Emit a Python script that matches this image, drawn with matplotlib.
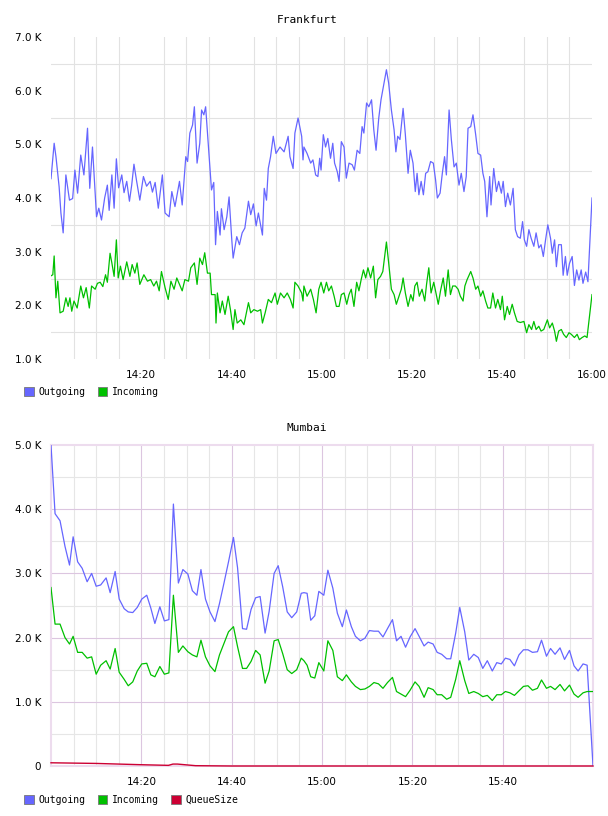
import matplotlib
matplotlib.use("Agg")
import matplotlib.pyplot as plt
from matplotlib.patches import Patch
from matplotlib.ticker import FixedLocator

# (minutes after 14:00, value in K)
fr_out = [(0.0, 4.36), (0.7, 5.02), (1.1, 4.77), (1.8, 4.21), (2.2, 3.72), (2.7, 3.35), (3.3, 4.43),
          (4.1, 3.96), (4.8, 3.99), (5.3, 4.52), (5.9, 4.09), (6.6, 4.80), (7.3, 4.43), (8.1, 5.30),
          (8.6, 4.18), (9.2, 4.95), (10.1, 3.65), (10.6, 3.81), (11.2, 3.59), (11.9, 4.00), (12.5, 4.24),
          (12.9, 3.77), (13.5, 4.43), (14.0, 3.81), (14.5, 4.73), (15.0, 4.19), (15.7, 4.43), (16.2, 4.10),
          (16.8, 4.31), (17.4, 3.94), (17.9, 4.24), (18.4, 4.63), (19.0, 4.31), (19.7, 3.96), (20.5, 4.40),
          (21.2, 4.22), (22.0, 4.31), (22.5, 4.11), (23.1, 4.29), (23.8, 3.81), (24.7, 4.43), (25.3, 3.72),
          (26.2, 3.65), (26.8, 4.12), (27.5, 3.84), (28.5, 4.31), (29.1, 3.87), (29.9, 4.77), (30.3, 4.68),
          (30.8, 5.21), (31.4, 5.36), (31.8, 5.70), (32.4, 4.65), (33.0, 5.02), (33.4, 5.64), (33.9, 5.55),
          (34.3, 5.70), (34.9, 4.99), (35.6, 4.15), (36.1, 4.29), (36.5, 3.13), (36.9, 3.75), (37.5, 3.31),
          (37.8, 3.80), (38.4, 3.41), (39.0, 3.65), (39.5, 4.02), (40.1, 3.22), (40.4, 2.88), (41.2, 3.28),
          (41.8, 3.13), (42.4, 3.35), (43.0, 3.44), (43.8, 3.94), (44.3, 3.69), (44.9, 3.89), (45.5, 3.48),
          (46.0, 3.72), (46.9, 3.31), (47.3, 4.18), (47.8, 3.96), (48.2, 4.55), (48.7, 4.77), (49.3, 5.15),
          (49.9, 4.83), (50.8, 4.95), (51.7, 4.86), (52.6, 5.15), (53.0, 4.77), (53.7, 4.55), (54.1, 5.21),
          (54.8, 5.49), (55.6, 5.15), (55.9, 4.71), (56.1, 4.95), (56.8, 4.83), (57.6, 4.65), (58.1, 4.71),
          (58.7, 4.43), (59.2, 4.40), (59.6, 4.74), (59.9, 4.52), (60.4, 5.18), (60.9, 4.95), (61.4, 5.11),
          (62.0, 4.74), (62.5, 5.02), (62.9, 4.65), (63.5, 4.49), (63.9, 4.31), (64.4, 5.05), (65.0, 4.95),
          (65.5, 4.37), (66.1, 4.65), (66.8, 4.62), (67.3, 4.52), (67.9, 4.89), (68.5, 4.83), (69.0, 5.33),
          (69.4, 5.21), (70.0, 5.77), (70.5, 5.70), (71.1, 5.83), (71.6, 5.27), (72.1, 4.89), (72.7, 5.49),
          (73.2, 5.83), (73.8, 6.11), (74.4, 6.39), (74.9, 6.14), (75.5, 5.64), (76.1, 5.27), (76.5, 4.86),
          (76.9, 5.15), (77.4, 5.09), (78.1, 5.67), (78.6, 5.18), (79.2, 4.46), (79.7, 4.89), (80.3, 4.65),
          (80.8, 4.12), (81.2, 4.46), (81.6, 4.06), (82.1, 4.31), (82.6, 4.06), (83.1, 4.46), (83.6, 4.49),
          (84.2, 4.68), (84.8, 4.65), (85.3, 4.34), (85.7, 4.00), (86.3, 4.09), (86.8, 4.46), (87.3, 4.77),
          (87.7, 4.43), (88.3, 5.64), (88.8, 5.09), (89.4, 4.58), (89.9, 4.65), (90.5, 4.24), (91.0, 4.46),
          (91.6, 4.12), (92.1, 4.40), (92.5, 5.30), (93.1, 5.33), (93.6, 5.55), (94.2, 5.18), (94.7, 4.83),
          (95.3, 4.80), (95.8, 4.46), (96.2, 4.31), (96.7, 3.65), (97.3, 4.40), (97.6, 3.87), (98.2, 4.55),
          (98.8, 4.12), (99.3, 4.31), (99.9, 4.09), (100.3, 4.31), (100.8, 3.84), (101.3, 4.09), (101.9, 3.87),
          (102.5, 4.18), (103.0, 3.41), (103.5, 3.28), (104.1, 3.25), (104.6, 3.56), (105.0, 3.22), (105.5, 3.10),
          (106.0, 3.41), (106.5, 3.25), (107.1, 3.10), (107.6, 3.35), (108.2, 3.07), (108.7, 3.13), (109.2, 2.91),
          (109.7, 3.22), (110.2, 3.50), (110.8, 3.25), (111.2, 2.97), (111.7, 3.22), (112.1, 2.72), (112.6, 3.13),
          (113.2, 3.13), (113.6, 2.56), (114.1, 2.91), (114.5, 2.56), (115.0, 2.78), (115.6, 2.91), (116.1, 2.37),
          (116.6, 2.66), (117.1, 2.47), (117.6, 2.66), (118.0, 2.41), (118.6, 2.62), (119.1, 2.44), (120.0, 4.00)]

fr_in = [(0.0, 2.55), (0.4, 2.57), (0.7, 2.92), (1.1, 2.14), (1.5, 2.45), (2.0, 1.86), (2.7, 1.89),
         (3.3, 2.14), (3.8, 1.98), (4.2, 2.14), (4.6, 1.89), (5.1, 2.08), (5.8, 1.95), (6.6, 2.36),
         (7.2, 2.14), (7.8, 2.33), (8.5, 1.95), (9.0, 2.36), (9.8, 2.30), (10.3, 2.41), (10.9, 2.43),
         (11.5, 2.35), (12.1, 2.57), (12.5, 2.43), (13.1, 2.97), (13.5, 2.79), (14.0, 2.54), (14.5, 3.22),
         (14.9, 2.51), (15.4, 2.73), (16.0, 2.48), (16.8, 2.81), (17.5, 2.54), (18.0, 2.76), (18.6, 2.60),
         (19.1, 2.79), (19.7, 2.39), (20.6, 2.57), (21.4, 2.45), (22.1, 2.48), (22.8, 2.36), (23.4, 2.45),
         (24.0, 2.27), (24.5, 2.63), (25.3, 2.33), (26.0, 2.11), (26.6, 2.45), (27.3, 2.30), (27.9, 2.51),
         (28.5, 2.39), (29.1, 2.27), (29.7, 2.48), (30.5, 2.45), (31.0, 2.70), (31.8, 2.79), (32.4, 2.39),
         (33.0, 2.88), (33.6, 2.76), (34.1, 2.98), (34.7, 2.60), (35.3, 2.60), (35.6, 2.20), (36.4, 2.20),
         (36.6, 1.67), (36.9, 2.23), (37.5, 1.86), (38.0, 2.08), (38.6, 1.83), (39.3, 2.17), (39.8, 1.92),
         (40.4, 1.55), (40.8, 1.92), (41.3, 1.67), (42.1, 1.73), (42.8, 1.64), (43.8, 2.05), (44.3, 1.86),
         (45.0, 1.92), (45.8, 1.89), (46.5, 1.92), (46.9, 1.67), (47.5, 1.86), (48.2, 2.11), (48.9, 2.05),
         (49.7, 2.23), (50.2, 2.02), (50.9, 2.23), (51.7, 2.14), (52.4, 2.23), (53.1, 2.11), (53.7, 1.95),
         (54.1, 2.43), (54.8, 2.36), (55.6, 2.23), (55.9, 2.08), (56.1, 2.36), (56.8, 2.17), (57.6, 2.30),
         (58.2, 2.11), (58.8, 1.86), (59.4, 2.30), (59.9, 2.43), (60.5, 2.23), (61.1, 2.43), (61.6, 2.27),
         (62.2, 2.36), (62.8, 2.17), (63.3, 1.98), (63.9, 1.98), (64.4, 2.20), (65.0, 2.23), (65.6, 2.02),
         (66.1, 2.20), (66.6, 2.30), (67.2, 1.98), (67.8, 2.43), (68.3, 2.27), (68.8, 2.48), (69.3, 2.66),
         (69.8, 2.51), (70.3, 2.70), (70.9, 2.51), (71.5, 2.73), (72.0, 2.14), (72.5, 2.48), (73.1, 2.54),
         (73.6, 2.63), (74.4, 3.18), (74.9, 2.79), (75.5, 2.30), (76.1, 2.20), (76.6, 2.02), (77.2, 2.17),
         (77.7, 2.30), (78.1, 2.51), (78.6, 2.23), (79.2, 1.98), (79.8, 2.20), (80.3, 2.08), (80.7, 2.36),
         (81.2, 2.43), (81.7, 2.17), (82.3, 2.30), (82.9, 2.08), (83.3, 2.39), (83.8, 2.70), (84.3, 2.23),
         (84.9, 2.43), (85.4, 2.23), (85.9, 2.02), (86.4, 2.27), (87.0, 2.51), (87.5, 2.17), (88.1, 2.66),
         (88.6, 2.20), (89.1, 2.36), (89.7, 2.36), (90.3, 2.30), (90.8, 2.17), (91.4, 2.08), (91.8, 2.36),
         (92.3, 2.48), (93.1, 2.63), (93.6, 2.51), (94.2, 2.30), (94.7, 2.36), (95.3, 2.17), (95.8, 2.27),
         (96.4, 2.08), (96.9, 1.95), (97.5, 1.95), (98.0, 2.23), (98.6, 1.95), (99.1, 2.11), (99.7, 1.92),
         (100.1, 2.17), (100.6, 1.73), (101.2, 1.98), (101.7, 1.83), (102.3, 2.02), (102.8, 1.86), (103.4, 1.70),
         (104.1, 1.68), (104.9, 1.70), (105.5, 1.49), (106.0, 1.64), (106.6, 1.55), (107.1, 1.70), (107.6, 1.55),
         (108.2, 1.61), (108.7, 1.52), (109.3, 1.55), (110.1, 1.73), (110.6, 1.58), (111.2, 1.67), (111.7, 1.52),
         (112.1, 1.33), (112.6, 1.52), (113.2, 1.55), (113.7, 1.46), (114.3, 1.40), (114.9, 1.49), (115.4, 1.46),
         (116.1, 1.40), (116.7, 1.46), (117.2, 1.36), (117.8, 1.40), (118.4, 1.43), (118.9, 1.40), (120.0, 2.20)]

mu_t = [0.0, 0.9, 2.0, 3.1, 4.1, 4.9, 5.9, 6.9, 8.0, 9.0, 10.0, 11.0, 12.2, 13.1, 14.2, 15.1, 16.2, 17.1,
        18.1, 19.1, 20.1, 21.2, 22.1, 23.0, 24.1, 25.1, 26.1, 27.1, 28.2, 29.2, 30.3, 31.3, 32.3, 33.2,
        34.2, 35.2, 36.3, 37.3, 38.3, 39.3, 40.4, 41.3, 42.4, 43.3, 44.3, 45.3, 46.3, 47.4, 48.3, 49.4,
        50.3, 51.3, 52.3, 53.3, 54.4, 55.4, 56.0, 56.7, 57.5, 58.4, 59.3, 60.4, 61.3, 62.4, 63.4, 64.5,
        65.4, 66.5, 67.4, 68.5, 69.5, 70.5, 71.5, 72.5, 73.5, 74.5, 75.6, 76.5, 77.5, 78.5, 79.5, 80.6,
        81.5, 82.6, 83.5, 84.6, 85.5, 86.5, 87.6, 88.5, 89.6, 90.5, 91.6, 92.5, 93.6, 94.6, 95.6, 96.6,
        97.7, 98.7, 99.7, 100.6, 101.6, 102.6, 103.6, 104.6, 105.6, 106.6, 107.7, 108.6, 109.7, 110.6,
        111.6, 112.7, 113.7, 114.8, 115.8, 116.7, 117.8, 118.7, 120.0]
mu_out = [5.00, 3.93, 3.82, 3.42, 3.13, 3.57, 3.18, 3.08, 2.87, 3.00, 2.80, 2.82, 2.93, 2.70, 3.03, 2.60, 2.45, 2.40,
          2.39, 2.47, 2.60, 2.66, 2.46, 2.22, 2.48, 2.26, 2.28, 4.08, 2.85, 3.06, 2.99, 2.73, 2.66, 3.06,
          2.60, 2.40, 2.25, 2.53, 2.85, 3.18, 3.56, 3.09, 2.14, 2.13, 2.44, 2.62, 2.64, 2.07, 2.41, 3.00,
          3.12, 2.79, 2.40, 2.31, 2.40, 2.69, 2.70, 2.69, 2.27, 2.34, 2.72, 2.66, 3.05, 2.77, 2.38, 2.17,
          2.43, 2.17, 2.02, 1.95, 1.99, 2.11, 2.10, 2.10, 2.01, 2.14, 2.28, 1.95, 2.02, 1.85, 2.01, 2.14,
          2.02, 1.87, 1.93, 1.90, 1.77, 1.74, 1.67, 1.67, 2.07, 2.47, 2.09, 1.65, 1.74, 1.69, 1.52, 1.64,
          1.48, 1.61, 1.59, 1.68, 1.66, 1.56, 1.73, 1.81, 1.81, 1.77, 1.78, 1.96, 1.71, 1.83,
          1.74, 1.84, 1.66, 1.80, 1.56, 1.48, 1.59, 1.57, 0.00]
mu_in = [2.78, 2.21, 2.21, 2.00, 1.90, 2.02, 1.77, 1.77, 1.68, 1.70, 1.43, 1.57, 1.64, 1.51, 1.83, 1.46, 1.35, 1.25,
         1.31, 1.48, 1.59, 1.60, 1.42, 1.39, 1.55, 1.43, 1.45, 2.66, 1.77, 1.87, 1.78, 1.73, 1.70, 1.96,
         1.70, 1.56, 1.47, 1.73, 1.91, 2.09, 2.17, 1.86, 1.52, 1.52, 1.63, 1.80, 1.73, 1.29, 1.48, 1.95,
         1.97, 1.75, 1.50, 1.44, 1.50, 1.68, 1.64, 1.57, 1.39, 1.37, 1.61, 1.48, 1.95, 1.80, 1.39, 1.33,
         1.42, 1.31, 1.24, 1.19, 1.20, 1.24, 1.30, 1.28, 1.21, 1.30, 1.38, 1.16, 1.12, 1.08, 1.18, 1.31,
         1.24, 1.07, 1.22, 1.19, 1.11, 1.11, 1.04, 1.07, 1.35, 1.64, 1.33, 1.13, 1.16, 1.13, 1.08, 1.10,
         1.02, 1.11, 1.11, 1.16, 1.14, 1.10, 1.17, 1.24, 1.25, 1.18, 1.21, 1.34, 1.21, 1.24,
         1.19, 1.27, 1.17, 1.26, 1.12, 1.07, 1.14, 1.16, 1.16]
mu_q_t = [0, 10, 20, 26, 27, 28, 32, 40, 120]
mu_q = [0.05, 0.04, 0.02, 0.01, 0.03, 0.03, 0.005, 0.0, 0.0]

fr_ticks = [20, 40, 60, 80, 100, 120]
fr_tick_labels = ["14:20", "14:40", "15:00", "15:20", "15:40", "16:00"]
mu_ticks = [20, 40, 60, 80, 100]
mu_tick_labels = ["14:20", "14:40", "15:00", "15:20", "15:40"]
fr_yticks = [1, 2, 3, 4, 5, 6, 7]
mu_yticks = [0, 1, 2, 3, 4, 5]

c_out = "#6666ff"
c_in = "#00c000"
c_q = "#cc0033"
mono = "DejaVu Sans Mono"

fig = plt.figure(figsize=(6.08, 8.16), dpi=100)

# ---- Frankfurt
ax1 = fig.add_axes([51 / 608, 1 - 359 / 816, 541 / 608, 322 / 816])
t, v = zip(*fr_out)
ax1.plot(t, v, color=c_out, lw=0.9)
t, v = zip(*fr_in)
ax1.plot(t, v, color=c_in, lw=0.9)
ax1.set_xlim(0, 120)
ax1.set_ylim(1, 7)
for s in ax1.spines.values():
    s.set_visible(False)
ax1.set_yticks(fr_yticks)
ax1.set_yticklabels(["%.1f K" % y for y in fr_yticks])
ax1.set_xticks(fr_ticks)
ax1.set_xticklabels(fr_tick_labels)
ax1.yaxis.set_minor_locator(FixedLocator([1.5, 2.5, 3.5, 4.5, 5.5, 6.5]))
ax1.xaxis.set_minor_locator(FixedLocator(list(range(5, 121, 5))))
ax1.grid(which="minor", color="#e2e2e2", lw=0.8)
ax1.tick_params(which="both", length=0)
ax1.tick_params(axis="y", pad=7, labelsize=7.5)
ax1.tick_params(axis="x", pad=8, labelsize=7.5)
ax1.set_axisbelow(True)
fig.text(307 / 608, 1 - 20 / 816, "Frankfurt", ha="center", va="center", family=mono, fontsize=8)
fig.legend(handles=[Patch(facecolor=c_out, edgecolor="#777777", lw=0.6, label="Outgoing"),
                    Patch(facecolor=c_in, edgecolor="#777777", lw=0.6, label="Incoming")],
           loc="center left", bbox_to_anchor=(24 / 608, 1 - 392 / 816), ncol=2, frameon=False,
           prop={"family": mono, "size": 7}, handlelength=1.0, handleheight=1.0,
           handletextpad=0.45, columnspacing=1.3, borderpad=0, borderaxespad=0)

# ---- Mumbai
ax2 = fig.add_axes([51 / 608, 1 - 766 / 816, 542 / 608, 321 / 816])
ax2.plot(mu_t, mu_out, color=c_out, lw=0.9, zorder=3)
ax2.plot(mu_t, mu_in, color=c_in, lw=0.9, zorder=3)
ax2.plot(mu_q_t, mu_q, color=c_q, lw=1.0, zorder=4, clip_on=False)
ax2.set_xlim(0, 120)
ax2.set_ylim(0, 5)
for s in ax2.spines.values():
    s.set_color("#eddcee")
    s.set_linewidth(1.5)
    s.set_zorder(1)
ax2.set_yticks(mu_yticks)
ax2.set_yticklabels(["0" if y == 0 else "%.1f K" % y for y in mu_yticks])
ax2.set_xticks(mu_ticks)
ax2.set_xticklabels(mu_tick_labels)
for x in range(5, 120, 5):
    ax2.axvline(x, color="#dcc6e0" if x % 20 == 0 else "#e6e6e6", lw=0.8, zorder=0)
for y in [0.5, 1, 1.5, 2, 2.5, 3, 3.5, 4, 4.5]:
    ax2.axhline(y, color="#dcc6e0" if y % 1 == 0 else "#e6e6e6", lw=0.8, zorder=0)
ax2.tick_params(which="both", length=0)
ax2.tick_params(axis="y", pad=7, labelsize=7.5)
ax2.tick_params(axis="x", pad=8, labelsize=7.5)
fig.text(307 / 608, 1 - 428 / 816, "Mumbai", ha="center", va="center", family=mono, fontsize=8)
fig.legend(handles=[Patch(facecolor=c_out, edgecolor="#777777", lw=0.6, label="Outgoing"),
                    Patch(facecolor=c_in, edgecolor="#777777", lw=0.6, label="Incoming"),
                    Patch(facecolor=c_q, edgecolor="#777777", lw=0.6, label="QueueSize")],
           loc="center left", bbox_to_anchor=(24 / 608, 1 - 800 / 816), ncol=3, frameon=False,
           prop={"family": mono, "size": 7}, handlelength=1.0, handleheight=1.0,
           handletextpad=0.45, columnspacing=1.3, borderpad=0, borderaxespad=0)

fig.savefig("out.png", dpi=100)
